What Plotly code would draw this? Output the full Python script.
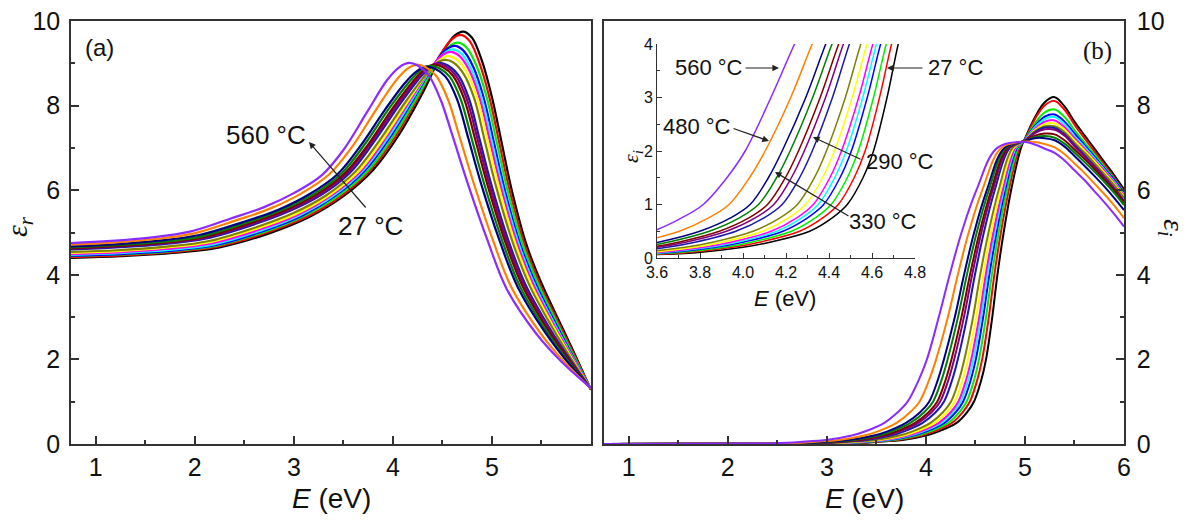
import plotly.graph_objects as go

W, H = 1201, 525

def px(x):
    return x / W

def py(y):
    return 1 - y / H

# ---------------- temperatures / colours (27 °C ... 560 °C) ----------------
temps = [27, 60, 100, 140, 170, 200, 240, 290, 330, 370, 400, 440, 480, 520, 560]
colors = ["#000000", "#FF0000", "#00EE00", "#0000FF", "#00FFFF", "#FF00FF", "#FFFF00",
          "#808000", "#1A1AA8", "#800080", "#800000", "#008000", "#000080", "#FF8000", "#8B2CFF"]

# ---------------- panel (a): eps_r vs E ----------------
ea_27 = [0.75, 1.25, 1.75, 2.25, 2.75, 3.15, 3.5, 3.8, 4.05, 4.3, 4.5, 4.62, 4.713, 4.8, 4.9, 5.0, 5.1, 5.2, 5.35, 5.5, 5.7, 5.85, 6.0]
er_27 = [4.40, 4.44, 4.51, 4.65, 4.98, 5.36, 5.86, 6.48, 7.27, 8.30, 9.25, 9.65, 9.75, 9.60, 9.05, 8.20, 7.10, 6.00, 4.70, 3.80, 2.80, 2.05, 1.28]
ea_60 = [0.75, 1.245, 1.74, 2.235, 2.73, 3.128, 3.475, 3.774, 4.023, 4.272, 4.472, 4.592, 4.685, 4.773, 4.873, 4.974, 5.075, 5.177, 5.33, 5.483, 5.688, 5.843, 6.0]
er_60 = [4.42, 4.46, 4.53, 4.67, 5.00, 5.37, 5.86, 6.48, 7.26, 8.27, 9.18, 9.56, 9.67, 9.53, 9.01, 8.20, 7.11, 6.01, 4.71, 3.79, 2.79, 2.05, 1.28]
ea_100 = [0.75, 1.24, 1.73, 2.22, 2.71, 3.105, 3.45, 3.748, 3.995, 4.244, 4.444, 4.564, 4.657, 4.745, 4.846, 4.948, 5.05, 5.154, 5.31, 5.465, 5.675, 5.835, 6.0]
er_100 = [4.44, 4.48, 4.55, 4.69, 5.02, 5.39, 5.87, 6.46, 7.24, 8.20, 9.02, 9.39, 9.49, 9.37, 8.93, 8.19, 7.12, 6.03, 4.72, 3.79, 2.78, 2.04, 1.28]
ea_140 = [0.75, 1.234, 1.718, 2.202, 2.686, 3.078, 3.42, 3.717, 3.962, 4.21, 4.41, 4.53, 4.624, 4.712, 4.814, 4.917, 5.02, 5.126, 5.286, 5.444, 5.66, 5.826, 6.0]
er_140 = [4.45, 4.49, 4.56, 4.70, 5.03, 5.39, 5.87, 6.46, 7.22, 8.16, 8.95, 9.31, 9.41, 9.30, 8.90, 8.18, 7.13, 6.04, 4.72, 3.78, 2.77, 2.03, 1.29]
ea_170 = [0.75, 1.23, 1.71, 2.19, 2.67, 3.06, 3.40, 3.696, 3.94, 4.188, 4.388, 4.508, 4.602, 4.69, 4.792, 4.896, 5.0, 5.108, 5.27, 5.43, 5.65, 5.82, 6.0]
er_170 = [4.47, 4.51, 4.58, 4.72, 5.05, 5.41, 5.87, 6.46, 7.21, 8.12, 8.88, 9.22, 9.33, 9.23, 8.86, 8.18, 7.14, 6.05, 4.73, 3.77, 2.76, 2.03, 1.29]
ea_200 = [0.75, 1.226, 1.702, 2.178, 2.654, 3.042, 3.38, 3.675, 3.918, 4.166, 4.366, 4.486, 4.58, 4.668, 4.77, 4.875, 4.98, 5.09, 5.254, 5.416, 5.64, 5.814, 6.0]
er_200 = [4.49, 4.53, 4.61, 4.75, 5.07, 5.42, 5.88, 6.45, 7.20, 8.10, 8.83, 9.17, 9.27, 9.18, 8.84, 8.18, 7.15, 6.07, 4.74, 3.77, 2.75, 2.03, 1.29]
ea_240 = [0.75, 1.221, 1.693, 2.164, 2.636, 3.022, 3.357, 3.652, 3.893, 4.14, 4.34, 4.46, 4.555, 4.643, 4.746, 4.852, 4.957, 5.069, 5.236, 5.4, 5.629, 5.807, 6.0]
er_240 = [4.52, 4.56, 4.64, 4.78, 5.10, 5.44, 5.88, 6.44, 7.18, 8.06, 8.75, 9.06, 9.17, 9.09, 8.79, 8.17, 7.16, 6.08, 4.74, 3.76, 2.74, 2.02, 1.29]
ea_290 = [0.75, 1.215, 1.681, 2.146, 2.612, 2.995, 3.327, 3.621, 3.86, 4.107, 4.307, 4.427, 4.521, 4.61, 4.714, 4.821, 4.927, 5.041, 5.212, 5.379, 5.614, 5.798, 6.0]
er_290 = [4.54, 4.58, 4.66, 4.80, 5.12, 5.46, 5.88, 6.44, 7.16, 8.02, 8.66, 8.98, 9.08, 9.02, 8.75, 8.17, 7.17, 6.09, 4.75, 3.75, 2.73, 2.02, 1.29]
ea_330 = [0.75, 1.205, 1.661, 2.116, 2.572, 2.95, 3.277, 3.569, 3.805, 4.051, 4.251, 4.371, 4.466, 4.555, 4.66, 4.769, 4.877, 4.995, 5.172, 5.344, 5.589, 5.783, 6.0]
er_330 = [4.60, 4.65, 4.72, 4.86, 5.17, 5.50, 5.89, 6.42, 7.13, 7.97, 8.60, 8.90, 9.01, 8.95, 8.72, 8.16, 7.19, 6.12, 4.77, 3.74, 2.71, 2.01, 1.30]
ea_370 = [0.75, 1.201, 1.652, 2.103, 2.554, 2.929, 3.255, 3.545, 3.78, 4.026, 4.226, 4.346, 4.441, 4.53, 4.635, 4.745, 4.855, 4.975, 5.154, 5.328, 5.577, 5.776, 6.0]
er_370 = [4.62, 4.67, 4.74, 4.88, 5.19, 5.51, 5.89, 6.42, 7.12, 7.96, 8.58, 8.88, 8.99, 8.93, 8.71, 8.16, 7.20, 6.13, 4.77, 3.73, 2.70, 2.00, 1.30]
ea_400 = [0.75, 1.196, 1.642, 2.088, 2.534, 2.907, 3.23, 3.519, 3.753, 3.998, 4.198, 4.318, 4.413, 4.503, 4.608, 4.719, 4.83, 4.952, 5.134, 5.311, 5.565, 5.769, 6.0]
er_400 = [4.63, 4.68, 4.75, 4.89, 5.20, 5.52, 5.90, 6.41, 7.09, 7.94, 8.56, 8.86, 8.97, 8.91, 8.70, 8.16, 7.21, 6.15, 4.78, 3.72, 2.69, 2.00, 1.30]
ea_440 = [0.75, 1.189, 1.628, 2.067, 2.506, 2.875, 3.195, 3.483, 3.714, 3.958, 4.158, 4.278, 4.374, 4.464, 4.571, 4.683, 4.795, 4.919, 5.106, 5.286, 5.547, 5.758, 6.0]
er_440 = [4.65, 4.70, 4.77, 4.91, 5.22, 5.53, 5.90, 6.40, 7.08, 7.92, 8.54, 8.84, 8.94, 8.89, 8.69, 8.16, 7.22, 6.17, 4.79, 3.71, 2.68, 1.99, 1.30]
ea_480 = [0.75, 1.182, 1.614, 2.046, 2.478, 2.844, 3.16, 3.446, 3.676, 3.919, 4.119, 4.239, 4.335, 4.426, 4.533, 4.646, 4.76, 4.887, 5.078, 5.262, 5.53, 5.748, 6.0]
er_480 = [4.67, 4.72, 4.80, 4.94, 5.24, 5.54, 5.91, 6.39, 7.06, 7.90, 8.53, 8.81, 8.92, 8.87, 8.68, 8.16, 7.24, 6.18, 4.80, 3.70, 2.66, 1.98, 1.31]
ea_520 = [0.75, 1.164, 1.579, 1.993, 2.408, 2.765, 3.072, 3.355, 3.58, 3.821, 4.021, 4.141, 4.238, 4.33, 4.438, 4.555, 4.672, 4.807, 5.008, 5.201, 5.486, 5.722, 6.0]
er_520 = [4.71, 4.76, 4.84, 4.98, 5.28, 5.57, 5.92, 6.37, 7.00, 7.87, 8.56, 8.86, 8.97, 8.91, 8.70, 8.15, 7.27, 6.23, 4.83, 3.68, 2.63, 1.96, 1.31]
ea_560 = [0.75, 1.15, 1.55, 1.95, 2.35, 2.70, 3.0, 3.28, 3.5, 3.74, 3.94, 4.06, 4.157, 4.25, 4.36, 4.48, 4.6, 4.74, 4.95, 5.15, 5.45, 5.7, 6.0]
er_560 = [4.75, 4.80, 4.88, 5.02, 5.32, 5.60, 5.93, 6.35, 6.95, 7.85, 8.60, 8.90, 9.01, 8.95, 8.72, 8.15, 7.30, 6.27, 4.85, 3.66, 2.60, 1.95, 1.32]

# ---------------- panel (b): eps_i vs E ----------------
# rising edge: photon energy at which each curve crosses these eps_i levels
eps_levels = [0.01, 0.02, 0.05, 0.1, 0.2, 0.3, 0.5, 0.75, 1, 1.5, 2, 3, 4, 5, 6, 7]
eb_27 = [3.0, 3.25, 3.5, 3.78, 4.0, 4.13, 4.31, 4.415, 4.485, 4.558, 4.607, 4.67, 4.722, 4.785, 4.86, 4.96]
eb_60 = [2.950, 3.200, 3.450, 3.730, 3.951, 4.082, 4.263, 4.371, 4.443, 4.517, 4.568, 4.635, 4.691, 4.757, 4.837, 4.944]
eb_100 = [2.910, 3.160, 3.410, 3.690, 3.912, 4.043, 4.225, 4.336, 4.410, 4.485, 4.536, 4.607, 4.666, 4.735, 4.819, 4.932]
eb_140 = [2.869, 3.119, 3.369, 3.649, 3.872, 4.004, 4.186, 4.300, 4.375, 4.451, 4.504, 4.578, 4.640, 4.713, 4.800, 4.919]
eb_170 = [2.838, 3.088, 3.338, 3.618, 3.842, 3.975, 4.157, 4.273, 4.350, 4.426, 4.480, 4.557, 4.621, 4.696, 4.786, 4.910]
eb_200 = [2.811, 3.061, 3.311, 3.591, 3.816, 3.949, 4.131, 4.250, 4.327, 4.404, 4.458, 4.538, 4.604, 4.681, 4.774, 4.901]
eb_240 = [2.769, 3.019, 3.269, 3.549, 3.775, 3.908, 4.091, 4.212, 4.291, 4.370, 4.425, 4.508, 4.577, 4.657, 4.755, 4.888]
eb_290 = [2.723, 2.973, 3.223, 3.503, 3.730, 3.864, 4.047, 4.172, 4.253, 4.332, 4.388, 4.476, 4.548, 4.632, 4.734, 4.874]
eb_330 = [2.638, 2.888, 3.138, 3.418, 3.647, 3.782, 3.967, 4.098, 4.182, 4.263, 4.322, 4.416, 4.495, 4.585, 4.695, 4.847]
eb_370 = [2.592, 2.842, 3.092, 3.372, 3.602, 3.738, 3.923, 4.057, 4.143, 4.225, 4.285, 4.384, 4.467, 4.560, 4.674, 4.833]
eb_400 = [2.557, 2.807, 3.057, 3.337, 3.569, 3.704, 3.890, 4.027, 4.114, 4.197, 4.258, 4.359, 4.445, 4.541, 4.659, 4.822]
eb_440 = [2.507, 2.757, 3.007, 3.287, 3.520, 3.656, 3.843, 3.983, 4.072, 4.156, 4.219, 4.324, 4.414, 4.513, 4.636, 4.806]
eb_480 = [2.461, 2.711, 2.961, 3.241, 3.475, 3.612, 3.799, 3.942, 4.033, 4.118, 4.182, 4.292, 4.385, 4.487, 4.615, 4.792]
eb_520 = [2.361, 2.611, 2.861, 3.141, 3.377, 3.516, 3.704, 3.840, 3.935, 4.030, 4.103, 4.222, 4.322, 4.432, 4.569, 4.761]
eb_560 = [2.23, 2.48, 2.73, 3.01, 3.25, 3.39, 3.58, 3.715, 3.815, 3.925, 4.01, 4.13, 4.24, 4.36, 4.51, 4.72]

# peak / high-energy part: eps_i at these energies
tail_e = [5.0, 5.1, 5.2, 5.3, 5.4, 5.5, 5.6, 5.7, 5.8, 5.9, 6.0]
ei_27 = [7.22, 7.72, 8.08, 8.20, 7.98, 7.62, 7.30, 6.99, 6.67, 6.36, 6.02]
ei_60 = [7.21, 7.68, 8.01, 8.11, 7.90, 7.55, 7.23, 6.92, 6.61, 6.30, 5.97]
ei_100 = [7.20, 7.58, 7.84, 7.91, 7.73, 7.42, 7.13, 6.85, 6.56, 6.27, 5.95]
ei_140 = [7.20, 7.52, 7.74, 7.79, 7.62, 7.34, 7.07, 6.80, 6.52, 6.25, 5.93]
ei_170 = [7.19, 7.49, 7.68, 7.73, 7.56, 7.28, 7.03, 6.76, 6.49, 6.21, 5.90]
ei_200 = [7.19, 7.45, 7.62, 7.65, 7.49, 7.23, 6.98, 6.72, 6.46, 6.18, 5.88]
ei_240 = [7.18, 7.42, 7.56, 7.58, 7.43, 7.18, 6.94, 6.69, 6.42, 6.15, 5.85]
ei_290 = [7.18, 7.39, 7.51, 7.51, 7.37, 7.12, 6.89, 6.64, 6.38, 6.12, 5.82]
ei_330 = [7.18, 7.37, 7.48, 7.47, 7.32, 7.07, 6.83, 6.58, 6.32, 6.05, 5.75]
ei_370 = [7.17, 7.35, 7.44, 7.43, 7.29, 7.04, 6.80, 6.56, 6.30, 6.03, 5.73]
ei_400 = [7.17, 7.29, 7.34, 7.32, 7.18, 6.96, 6.74, 6.50, 6.25, 6.00, 5.70]
ei_440 = [7.16, 7.25, 7.28, 7.24, 7.10, 6.89, 6.67, 6.44, 6.20, 5.94, 5.65]
ei_480 = [7.16, 7.23, 7.23, 7.18, 7.03, 6.81, 6.58, 6.34, 6.09, 5.82, 5.53]
ei_520 = [7.15, 7.14, 7.09, 7.01, 6.85, 6.63, 6.41, 6.16, 5.91, 5.64, 5.34]
ei_560 = [7.14, 7.08, 6.98, 6.88, 6.70, 6.47, 6.24, 5.98, 5.72, 5.44, 5.14]

E_START = 0.75  # eps_i is zero from the start of the range

# tick labels
xa_ticks = [1, 2, 3, 4, 5]
xb_ticks = [1, 2, 3, 4, 5, 6]
y_ticks = [0, 2, 4, 6, 8, 10]
xin_ticks = [3.6, 3.8, 4.0, 4.2, 4.4, 4.6, 4.8]
xin_labels = ["3.6", "3.8", "4.0", "4.2", "4.4", "4.6", "4.8"]
yin_ticks = [0, 1, 2, 3, 4]

curves_a = [(ea_27, er_27), (ea_60, er_60), (ea_100, er_100), (ea_140, er_140), (ea_170, er_170),
            (ea_200, er_200), (ea_240, er_240), (ea_290, er_290), (ea_330, er_330), (ea_370, er_370),
            (ea_400, er_400), (ea_440, er_440), (ea_480, er_480), (ea_520, er_520), (ea_560, er_560)]
curves_b = [(eb_27, ei_27), (eb_60, ei_60), (eb_100, ei_100), (eb_140, ei_140), (eb_170, ei_170),
            (eb_200, ei_200), (eb_240, ei_240), (eb_290, ei_290), (eb_330, ei_330), (eb_370, ei_370),
            (eb_400, ei_400), (eb_440, ei_440), (eb_480, ei_480), (eb_520, ei_520), (eb_560, ei_560)]

fig = go.Figure()

for t, c, (xs, ys) in zip(temps, colors, curves_a):
    fig.add_trace(go.Scatter(x=xs, y=ys, mode="lines", name=f"{t} °C",
                             line=dict(color=c, width=2.2, shape="spline", smoothing=1.0),
                             xaxis="x", yaxis="y", showlegend=False))

for t, c, (rise, tail) in zip(temps, colors, curves_b):
    xs = [E_START] + rise + tail_e
    ys = [0.0] + eps_levels + tail
    fig.add_trace(go.Scatter(x=xs, y=ys, mode="lines", name=f"{t} °C",
                             line=dict(color=c, width=2, shape="spline", smoothing=1.0),
                             xaxis="x2", yaxis="y2", showlegend=False))
    fig.add_trace(go.Scatter(x=xs, y=ys, mode="lines", name=f"{t} °C",
                             line=dict(color=c, width=1.5, shape="spline", smoothing=1.0),
                             xaxis="x3", yaxis="y3", showlegend=False))

FONT = "Liberation Sans, Arial, sans-serif"
SERIF = "Liberation Serif, Times New Roman, serif"
AX = "#333333"

def axis_common(**kw):
    d = dict(showline=True, linecolor=AX, linewidth=1.5, ticks="inside", tickcolor=AX,
             tickwidth=1.5, ticklen=8, showgrid=False, zeroline=False, automargin=False,
             tickfont=dict(family=FONT, size=25, color="#111"))
    d.update(kw)
    return d

minor_main = dict(ticks="inside", ticklen=4, tickwidth=1.5, tickcolor=AX, showgrid=False)

fig.update_layout(
    width=W, height=H, autosize=False,
    margin=dict(l=0, r=0, t=0, b=0, pad=0),
    paper_bgcolor="white", plot_bgcolor="white",
    xaxis=axis_common(domain=[px(71), px(591)], range=[0.75, 6.0], anchor="y", mirror=True,
                      tickmode="array", tickvals=xa_ticks,
                      minor=dict(minor_main, tickmode="array", tickvals=[1.5, 2.5, 3.5, 4.5, 5.5])),
    yaxis=axis_common(domain=[py(444), py(21)], range=[0, 10], anchor="x", mirror=True,
                      tickmode="array", tickvals=y_ticks, ticklabelstandoff=4,
                      minor=dict(minor_main, tickmode="array", tickvals=[1, 3, 5, 7, 9])),
    xaxis2=axis_common(domain=[px(604), px(1124)], range=[0.75, 6.0], anchor="y2", mirror=True,
                       tickmode="array", tickvals=xb_ticks,
                       minor=dict(minor_main, tickmode="array", tickvals=[1.5, 2.5, 3.5, 4.5, 5.5])),
    yaxis2=axis_common(domain=[py(444), py(21)], range=[0, 10], anchor="x2", side="right", mirror=True,
                       tickmode="array", tickvals=y_ticks, ticklabelstandoff=6,
                       minor=dict(minor_main, tickmode="array", tickvals=[1, 3, 5, 7, 9])),
    xaxis3=axis_common(domain=[px(657), px(915)], range=[3.6, 4.8], anchor="y3", mirror=False,
                       tickmode="array", tickvals=xin_ticks, ticktext=xin_labels, ticklen=5, linewidth=1,
                       tickwidth=1, tickfont=dict(family=FONT, size=16, color="#111"),
                       minor=dict(ticks="inside", ticklen=3, tickwidth=1, tickcolor=AX,
                                  tickmode="array", tickvals=[3.7, 3.9, 4.1, 4.3, 4.5, 4.7])),
    yaxis3=axis_common(domain=[py(258), py(44)], range=[0, 4], anchor="x3", mirror=False,
                       tickmode="array", tickvals=yin_ticks, ticklen=5, linewidth=1, tickwidth=1,
                       tickfont=dict(family=FONT, size=16, color="#111"),
                       minor=dict(ticks="inside", ticklen=3, tickwidth=1, tickcolor=AX,
                                  tickmode="array", tickvals=[0.5, 1.5, 2.5, 3.5])),
)

def txt(x, y, s, size, family=FONT, angle=0, xanchor="center"):
    return dict(x=px(x), y=py(y), xref="paper", yref="paper", text=s, showarrow=False,
                font=dict(family=family, size=size, color="#111"), textangle=angle,
                xanchor=xanchor, yanchor="middle")

def arrow(hx, hy, tx, ty):
    return dict(x=px(hx), y=py(hy), xref="paper", yref="paper", text="", showarrow=True,
                ax=tx - hx, ay=ty - hy, axref="pixel", ayref="pixel",
                arrowhead=2, arrowsize=1.1, arrowwidth=1.2, arrowcolor="#222")

ann = [
    txt(331, 498, "<i>E</i> (eV)", 28),
    txt(864, 498, "<i>E</i> (eV)", 28),
    txt(19, 227, "<i>ε<sub>r</sub></i>", 30, family=SERIF, angle=-90),
    txt(1172, 228, "<i>ε<sub>i</sub></i>", 30, family=SERIF, angle=90),
    txt(99, 47, "(a)", 24),
    txt(1097, 51, "(b)", 25, family=SERIF),
    txt(266, 135, "560 °C", 26),
    txt(370, 226, "27 °C", 26),
    arrow(309, 142, 367, 209),
    # inset
    txt(785, 298, "<i>E</i> (eV)", 22),
    txt(632, 157, "<i>ε<sub>i</sub></i>", 22, family=SERIF, angle=-90),
    txt(709, 67, "560 °C", 22),
    arrow(779, 68, 744, 68),
    txt(926, 68, "27 °C", 22, xanchor="left"),
    arrow(887, 68, 924, 68),
    txt(697, 126, "480 °C", 22),
    arrow(769, 141, 732, 128),
    txt(900, 162, "290 °C", 22),
    arrow(813, 137, 862, 160),
    txt(883, 222, "330 °C", 22),
    arrow(775, 172, 850, 217),
]
fig.update_layout(annotations=ann)

fig.write_html("out.html", config={"displayModeBar": False},
               post_script="document.body.style.margin='0px';")
